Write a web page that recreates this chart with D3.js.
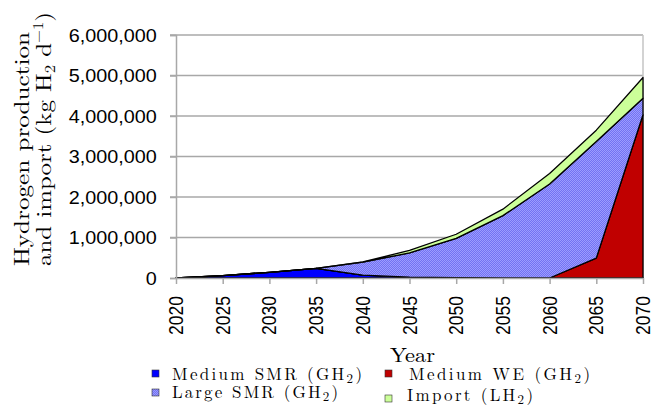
<!DOCTYPE html>
<html>
<head>
<meta charset="utf-8">
<script src="https://cdn.jsdelivr.net/npm/d3@7"></script>
<style>
  html, body { margin: 0; padding: 0; background: #fff; }
  svg { display: block; }
</style>
</head>
<body>
<svg id="chart" width="651" height="405"></svg>
<script>
// Hydrogen supply by source, kg H2 per day
const years      = [2020, 2025, 2030, 2035, 2040, 2045, 2050, 2055, 2060, 2065, 2070];
const mediumSMR  = [0, 60000, 140000, 240000, 70000, 20000, 10000, 0, 0, 0, 0];
const mediumWE   = [0, 0, 0, 0, 0, 0, 0, 0, 0, 490000, 4030000];
const largeSMR   = [0, 0, 0, 0, 320000, 600000, 970000, 1540000, 2320000, 2880000, 410000];
const importLH2  = [0, 0, 0, 0, 10000, 60000, 100000, 160000, 260000, 280000, 510000];
const yTicks     = [0, 1000000, 2000000, 3000000, 4000000, 5000000, 6000000];
const seriesKeys = ["mediumSMR", "mediumWE", "largeSMR", "importLH2"];

const svg = d3.select("#chart");

// pixel layout of the plot area
const plotL = 176, plotR = 643, plotT = 35, plotB = 278;
const x = d3.scaleLinear().domain([2020, 2070]).range([plotL, plotR]);
const y = d3.scaleLinear().domain([0, 6000000]).range([plotB, plotT]);

// dithered blue fill for Large SMR
const defs = svg.append("defs");
const pat = defs.append("pattern").attr("id", "dither")
  .attr("width", 2).attr("height", 2).attr("patternUnits", "userSpaceOnUse");
pat.append("rect").attr("width", 2).attr("height", 2).attr("fill", "#7272f2");
pat.append("rect").attr("x", 0).attr("y", 0).attr("width", 1).attr("height", 1).attr("fill", "#9c9cff");
pat.append("rect").attr("x", 1).attr("y", 1).attr("width", 1).attr("height", 1).attr("fill", "#9c9cff");

const fills = {
  mediumSMR: "#0000ff",
  mediumWE: "#c00000",
  largeSMR: "url(#dither)",
  importLH2: "#ccff99"
};

// gridlines + plot frame
const grid = svg.append("g");
grid.selectAll("line.h").data(yTicks.filter(d => d > 0)).join("line")
  .attr("x1", plotL - 6).attr("x2", plotR)
  .attr("y1", d => y(d)).attr("y2", d => y(d))
  .attr("stroke", "#a8a8a8").attr("stroke-width", 1.5);
grid.append("line").attr("x1", plotR).attr("x2", plotR).attr("y1", plotT).attr("y2", plotB)
  .attr("stroke", "#c4c4c4").attr("stroke-width", 1.5);

// stacked areas
const table = years.map((yr, i) => ({
  year: yr,
  mediumSMR: mediumSMR[i],
  mediumWE: mediumWE[i],
  largeSMR: largeSMR[i],
  importLH2: importLH2[i]
}));
const stacked = d3.stack().keys(seriesKeys)(table);
const area = d3.area()
  .x(d => x(d.data.year))
  .y0(d => y(d[0]))
  .y1(d => y(d[1]));

svg.append("g").selectAll("path").data(stacked).join("path")
  .attr("d", area)
  .attr("fill", d => fills[d.key])
  .attr("stroke", "#000")
  .attr("stroke-width", 1.3)
  .attr("stroke-linejoin", "round");

// axes
const yAxis = svg.append("g").attr("transform", `translate(${plotL},0)`)
  .call(d3.axisLeft(y).tickValues(yTicks).tickFormat(d3.format(",")).tickSize(6).tickPadding(8));
yAxis.select(".domain").attr("stroke", "#a8a8a8").attr("stroke-width", 1.5);
yAxis.selectAll(".tick line").attr("stroke", "#a8a8a8").attr("stroke-width", 1.5);
yAxis.selectAll(".tick text")
  .attr("font-family", "Liberation Sans, Arial, sans-serif")
  .attr("font-size", 18).attr("fill", "#000")
  .attr("x", -17.5)
  .attr("transform", "scale(1.1,1)")
  .attr("dy", "0.35em");

const xAxis = svg.append("g").attr("transform", `translate(0,${plotB})`)
  .call(d3.axisBottom(x).tickValues(years).tickFormat(d3.format("d")).tickSize(6).tickSizeOuter(0));
xAxis.select(".domain").attr("stroke", "#a8a8a8").attr("stroke-width", 1.5);
xAxis.selectAll(".tick line").attr("stroke", "#a8a8a8").attr("stroke-width", 1.5);
xAxis.selectAll(".tick text")
  .attr("font-family", "Liberation Sans, Arial, sans-serif")
  .attr("font-size", 17.5).attr("fill", "#000")
  .attr("text-anchor", "end")
  .attr("x", 0).attr("y", 0).attr("dy", 0)
  .attr("transform", "translate(6.5,18) scale(1.15,1) rotate(-90)");

// axis titles
const serif = "Latin Modern Roman, CMU Serif, Liberation Serif, Times New Roman, serif";
const yt = svg.append("g").attr("font-family", serif).attr("fill", "#000").attr("font-size", 21);
yt.append("text").attr("transform", "translate(29,266) rotate(-90)")
  .attr("textLength", 234).attr("lengthAdjust", "spacingAndGlyphs")
  .text("Hydrogen production");
const t2 = yt.append("text").attr("transform", "translate(51,266) rotate(-90)")
  .attr("textLength", 254).attr("lengthAdjust", "spacingAndGlyphs");
t2.append("tspan").text("and import (kg H");
t2.append("tspan").attr("font-size", 14).attr("dy", 4).text("2");
t2.append("tspan").attr("dy", -4).text(" d");
t2.append("tspan").attr("font-size", 14).attr("dy", -8).text("−1");
t2.append("tspan").attr("dy", 8).text(")");

svg.append("text").attr("x", 390).attr("y", 362)
  .attr("font-family", serif).attr("font-size", 20)
  .attr("textLength", 45).attr("lengthAdjust", "spacingAndGlyphs")
  .text("Year");

// legend
const legend = [
  { key: "mediumSMR", label: "Medium SMR (GH", sub: "2", tail: ")", sx: 152, sy: 370, tx: 172, ty: 379.5, w: 190 },
  { key: "largeSMR",  label: "Large SMR (GH",  sub: "2", tail: ")", sx: 152, sy: 389, tx: 172, ty: 397.5, w: 166 },
  { key: "mediumWE",  label: "Medium WE (GH",  sub: "2", tail: ")", sx: 385, sy: 370, tx: 409, ty: 379.5, w: 181 },
  { key: "importLH2", label: "Import (LH",     sub: "2", tail: ")", sx: 385, sy: 395, tx: 407, ty: 400.5, w: 126 }
];
const lg = svg.append("g");
lg.selectAll("rect").data(legend).join("rect")
  .attr("x", d => d.sx).attr("y", d => d.sy)
  .attr("width", 7).attr("height", 7)
  .attr("fill", d => fills[d.key])
  .attr("stroke", "#333").attr("stroke-width", 0.6);
lg.selectAll("text").data(legend).join("text")
  .attr("x", d => d.tx).attr("y", d => d.ty)
  .attr("font-family", serif).attr("font-size", 17)
  .attr("textLength", d => d.w).attr("lengthAdjust", "spacing")
  .each(function (d) {
    const t = d3.select(this);
    t.append("tspan").text(d.label);
    t.append("tspan").attr("font-size", 13).attr("dy", 3).text(d.sub);
    t.append("tspan").attr("dy", -3).text(d.tail);
  });
</script>
</body>
</html>
